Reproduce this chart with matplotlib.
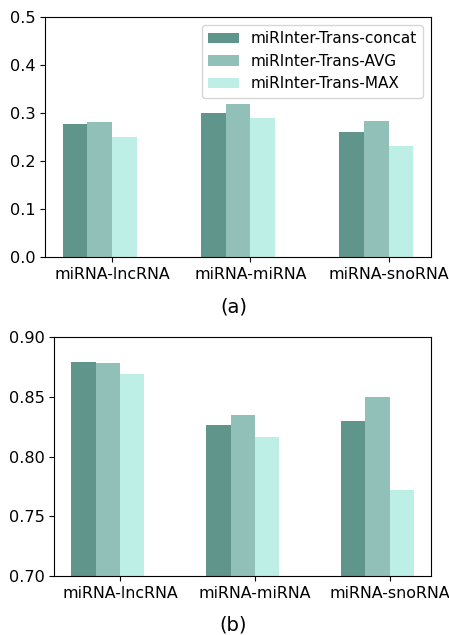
import matplotlib
matplotlib.use("Agg")
import matplotlib.pyplot as plt
import numpy as np

categories = ["miRNA-lncRNA", "miRNA-miRNA", "miRNA-snoRNA"]
models = ["miRInter-Trans-concat", "miRInter-Trans-AVG", "miRInter-Trans-MAX"]
colors = ["#5f958b", "#91c0b9", "#beefe7"]

# panel (a)
concat_a = [0.278, 0.300, 0.261]
avg_a = [0.282, 0.319, 0.284]
max_a = [0.250, 0.290, 0.232]

# panel (b)
concat_b = [0.879, 0.826, 0.830]
avg_b = [0.878, 0.835, 0.850]
max_b = [0.869, 0.816, 0.772]

a_ticks = [0.0, 0.1, 0.2, 0.3, 0.4, 0.5]
b_ticks = [0.70, 0.75, 0.80, 0.85, 0.90]

width = 0.18
x = np.arange(len(categories))

fig = plt.figure(figsize=(4.49, 6.35), dpi=100)
ax1 = fig.add_axes([0.1002, 0.5953, 0.8597, 0.3772])
ax2 = fig.add_axes([0.121, 0.0924, 0.839, 0.3773])


def draw_panel(ax, series, ticks, fmt):
    for i, (vals, col, name) in enumerate(zip(series, colors, models)):
        ax.bar(x + (i - 2) * width, vals, width, align="edge",
               color=col, label=name)
    ax.set_xticks(x)
    ax.set_xticklabels(categories, fontsize=11.4)
    ax.set_ylim(ticks[0], ticks[-1])
    ax.set_yticks(ticks)
    ax.set_yticklabels([fmt.format(t) for t in ticks], fontsize=11.6)


draw_panel(ax1, [concat_a, avg_a, max_a], a_ticks, "{:.1f}")
draw_panel(ax2, [concat_b, avg_b, max_b], b_ticks, "{:.2f}")

ax1.legend(loc="upper right", fontsize=11)

fig.text(0.52, 0.5165, "(a)", ha="center", va="center", fontsize=14)
fig.text(0.52, 0.0157, "(b)", ha="center", va="center", fontsize=14)

fig.savefig("out.png", dpi=100)
